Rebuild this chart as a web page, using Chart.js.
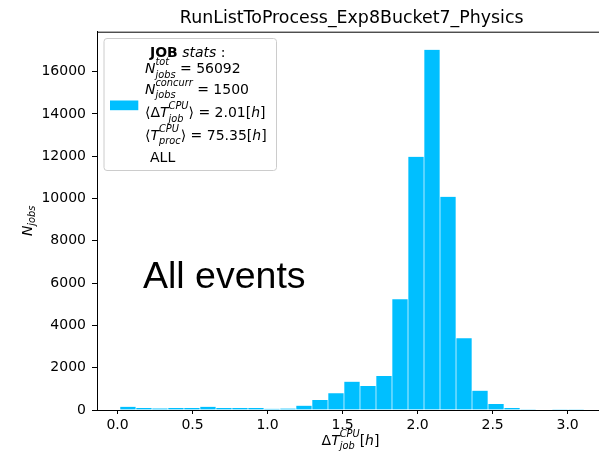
<!DOCTYPE html>
<html>
<head>
<meta charset="utf-8">
<script src="https://cdn.jsdelivr.net/npm/chart.js@4.4.0/dist/chart.umd.min.js"></script>
<style>
  html, body { margin: 0; padding: 0; background: #fff; overflow: hidden; width: 599px; height: 458px; }
  canvas { display: block; }
</style>
</head>
<body>
<canvas id="chart" width="640" height="458" style="width:640px;height:458px"></canvas>
<script>
// histogram bins (centres, in hours) and job counts
const binCenters = [0.0714, 0.1781, 0.2847, 0.3914, 0.4981, 0.6048, 0.7114, 0.8181, 0.9248, 1.0314,
  1.1381, 1.2448, 1.3514, 1.4581, 1.5648, 1.6715, 1.7781, 1.8848, 1.9915, 2.0981,
  2.2048, 2.3115, 2.4181, 2.5248, 2.6315, 2.7382, 2.8448, 2.9515, 3.0582];
const jobCounts = [155, 95, 75, 100, 90, 155, 95, 90, 100, 55,
  70, 205, 473, 790, 1340, 1135, 1608, 5234, 11977, 17040,
  10087, 3388, 914, 284, 100, 40, 25, 15, 10];
const xTicks = [0, 0.5, 1.0, 1.5, 2.0, 2.5, 3.0];
const yTicks = [0, 2000, 4000, 6000, 8000, 10000, 12000, 14000, 16000];
const chartTitle = 'RunListToProcess_Exp8Bucket7_Physics';
const annotation = 'All events';

const BAR = '#00bfff';
const FONT = '"DejaVu Sans"';

// draw a line of "mathtext": plain runs and stacked sub/superscripts
function drawMath(ctx, x, y, parts, size, align) {
  const setFont = (f, s) => {
    ctx.font = (f === 'i' ? 'italic ' : f === 'b' ? 'bold ' : '') + s + 'px ' + FONT;
  };
  const measure = p => {
    if (p.t !== undefined) { setFont(p.f, size); return ctx.measureText(p.t).width; }
    setFont('i', size * 0.7);
    return Math.max(p.sub ? ctx.measureText(p.sub).width : 0, p.sup ? ctx.measureText(p.sup).width : 0);
  };
  const total = parts.reduce((a, p) => a + measure(p), 0);
  let cx = align === 'center' ? x - total / 2 : x;
  ctx.textAlign = 'left';
  ctx.textBaseline = 'alphabetic';
  for (const p of parts) {
    const w = measure(p);
    if (p.t !== undefined) {
      setFont(p.f, size);
      ctx.fillText(p.t, cx, y);
    } else {
      setFont('i', size * 0.7);
      if (p.sup) ctx.fillText(p.sup, cx, y - size * 0.6);
      if (p.sub) ctx.fillText(p.sub, cx, y + size * (p.sup ? 0.3 : 0.22));
    }
    cx += w;
  }
}

const decorations = {
  id: 'decorations',
  afterDraw(chart) {
    const ctx = chart.ctx;
    const a = chart.chartArea;
    ctx.save();
    // top + right spines
    ctx.strokeStyle = '#000';
    ctx.lineWidth = 1;
    ctx.beginPath();
    ctx.moveTo(a.left, a.top + 0.5);
    ctx.lineTo(a.right, a.top + 0.5);
    ctx.lineTo(a.right, a.bottom);
    ctx.stroke();

    ctx.fillStyle = '#000';
    // title
    ctx.font = '17.4px ' + FONT;
    ctx.textAlign = 'center';
    ctx.textBaseline = 'alphabetic';
    ctx.fillText(chartTitle, 351.7, 23);

    // x label
    drawMath(ctx, 350.5, 445, [
      { t: 'Δ', f: 'n' }, { t: 'T', f: 'i' }, { sub: 'job', sup: 'CPU' },
      { t: '[', f: 'n' }, { t: 'h', f: 'i' }, { t: ']', f: 'n' }
    ], 14, 'center');

    // y label
    ctx.save();
    ctx.translate(31.5, (a.top + a.bottom) / 2);
    ctx.rotate(-Math.PI / 2);
    drawMath(ctx, 0, 0, [{ t: 'N', f: 'i' }, { sub: 'jobs' }], 14, 'center');
    ctx.restore();

    // big annotation
    ctx.font = '37.5px "Liberation Sans"';
    ctx.textAlign = 'left';
    ctx.fillText(annotation, 143, 288);

    // legend box
    const bx = 104, by = 38.5, bw = 172.5, bh = 132;
    ctx.beginPath();
    ctx.roundRect(bx, by, bw, bh, 3);
    ctx.fillStyle = 'rgba(255,255,255,0.8)';
    ctx.fill();
    ctx.strokeStyle = '#cccccc';
    ctx.stroke();
    ctx.fillStyle = BAR;
    ctx.fillRect(110, 100.5, 28.3, 9.7);

    ctx.fillStyle = '#000';
    const fs = 14;
    drawMath(ctx, 150, 56.7, [{ t: 'JOB', f: 'b' }, { t: ' stats', f: 'i' }, { t: ' :', f: 'n' }], fs);
    drawMath(ctx, 145, 73.3, [{ t: 'N', f: 'i' }, { sub: 'jobs', sup: 'tot' }, { t: ' = 56092', f: 'n' }], fs);
    drawMath(ctx, 145, 94, [{ t: 'N', f: 'i' }, { sub: 'jobs', sup: 'concurr' }, { t: ' = 1500', f: 'n' }], fs);
    drawMath(ctx, 145, 117.3, [{ t: '⟨Δ', f: 'n' }, { t: 'T', f: 'i' }, { sub: 'job', sup: 'CPU' },
      { t: '⟩ = 2.01[', f: 'n' }, { t: 'h', f: 'i' }, { t: ']', f: 'n' }], fs);
    drawMath(ctx, 145, 140, [{ t: '⟨', f: 'n' }, { t: 'T', f: 'i' }, { sub: 'proc', sup: 'CPU' },
      { t: '⟩ = 75.35[', f: 'n' }, { t: 'h', f: 'i' }, { t: ']', f: 'n' }], fs);
    drawMath(ctx, 150, 161.7, [{ t: 'ALL', f: 'n' }], fs);
    ctx.restore();
  }
};

Chart.defaults.font.family = FONT;
Chart.defaults.font.size = 14;
Chart.defaults.color = '#000';

new Chart(document.getElementById('chart'), {
  type: 'bar',
  data: {
    datasets: [{
      data: binCenters.map((x, i) => ({ x, y: jobCounts[i] })),
      backgroundColor: BAR,
      borderColor: 'rgba(255,255,255,0.2)',
      borderWidth: { right: 1, left: 0, top: 0, bottom: 0 },
      barPercentage: 1.0,
      categoryPercentage: 1.0
    }]
  },
  options: {
    responsive: false,
    animation: false,
    devicePixelRatio: 1,
    layout: { padding: { left: 0, top: 31.7, right: 32.3, bottom: 0 } },
    plugins: { legend: { display: false }, title: { display: false }, tooltip: { enabled: false } },
    scales: {
      x: {
        type: 'linear',
        offset: false,
        min: -0.137,
        max: 3.267,
        grid: { offset: false, drawOnChartArea: false, tickLength: 4, tickColor: '#000' },
        border: { color: '#000', width: 1 },
        ticks: { padding: 3, callback: v => v.toFixed(1) },
        afterBuildTicks: s => { s.ticks = xTicks.map(v => ({ value: v })); },
        afterFit: s => { s.height = 48; }
      },
      y: {
        min: 0,
        max: 17892,
        grid: { drawOnChartArea: false, tickLength: 5, tickColor: '#000' },
        border: { color: '#000', width: 1 },
        ticks: { padding: 6, callback: v => String(v) },
        afterBuildTicks: s => { s.ticks = yTicks.map(v => ({ value: v })); },
        afterFit: s => { s.width = 97; }
      }
    }
  },
  plugins: [decorations]
});
</script>
</body>
</html>
